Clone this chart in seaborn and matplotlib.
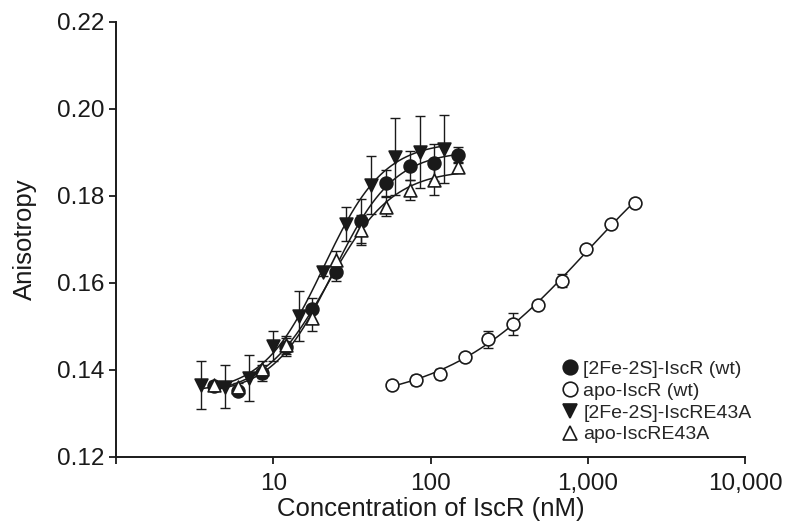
import numpy as np
import pandas as pd
import matplotlib
matplotlib.use("Agg")
import matplotlib.pyplot as plt
import seaborn as sns
from matplotlib.lines import Line2D

# [2Fe-2S]-IscR (wt) -- filled circles
holo_wt_x = [4.2, 6.0, 8.5, 12.1, 17.7, 25.2, 35.9, 51.9, 74.5, 105, 150]
holo_wt_y = [0.1363, 0.1350, 0.1392, 0.1452, 0.1539, 0.1625, 0.1742, 0.1830, 0.1869, 0.1876, 0.1893]
holo_wt_err = [0.0008, 0.0008, 0.0018, 0.0020, 0.0027, 0.0020, 0.0050, 0.0030, 0.0033, 0.0042, 0.0018]

# apo-IscR (wt) -- open circles
apo_wt_x = [56.7, 80.8, 115, 165, 233, 335, 481, 689, 975, 1398, 2005]
apo_wt_y = [0.1365, 0.1376, 0.1390, 0.1430, 0.1470, 0.1505, 0.1549, 0.1605, 0.1677, 0.1735, 0.1784]
apo_wt_err = [0.0010, 0.0012, 0.0012, 0.0005, 0.0020, 0.0025, 0.0005, 0.0015, 0.0005, 0.0005, 0.0005]

# [2Fe-2S]-IscRE43A -- filled down triangles
holo_mut_x = [3.45, 4.95, 7.05, 10.0, 14.5, 20.8, 29.2, 41.6, 59.7, 86.3, 122]
holo_mut_y = [0.1365, 0.1361, 0.1380, 0.1455, 0.1524, 0.1625, 0.1735, 0.1825, 0.1890, 0.1901, 0.1907]
holo_mut_err = [0.0055, 0.0050, 0.0053, 0.0035, 0.0057, 0.0010, 0.0040, 0.0067, 0.0088, 0.0083, 0.0078]

# apo-IscRE43A -- open up triangles
apo_mut_x = [4.2, 6.0, 8.5, 12.1, 17.7, 25.2, 35.9, 51.9, 74.5, 105, 150]
apo_mut_y = [0.1366, 0.1360, 0.1401, 0.1457, 0.1518, 0.1652, 0.1721, 0.1775, 0.1813, 0.1836, 0.1867]
apo_mut_err = [0.0008, 0.0010, 0.0020, 0.0020, 0.0030, 0.0020, 0.0035, 0.0022, 0.0023, 0.0035, 0.0010]

labels = ["[2Fe-2S]-IscR (wt)", "apo-IscR (wt)", "[2Fe-2S]-IscRE43A", "apo-IscRE43A"]
xticks = [1, 10, 100, 1000, 10000]
xticklabels = ["", "10", "100", "1,000", "10,000"]
yticks = [0.12, 0.14, 0.16, 0.18, 0.20, 0.22]


def hill_fit(x, y):
    """Grid search over log K and n; baseline/amplitude solved linearly."""
    lx = np.log10(np.asarray(x, float))
    y = np.asarray(y, float)
    logk, n = np.meshgrid(np.linspace(0.3, 4.0, 371), np.linspace(0.6, 4.0, 69))
    logk, n = logk.ravel()[:, None], n.ravel()[:, None]
    f = 1.0 / (1.0 + 10 ** (n * (logk - lx[None, :])))
    fm, ym = f.mean(1, keepdims=True), y.mean()
    a = ((f - fm) * (y - ym)).sum(1, keepdims=True) / ((f - fm) ** 2).sum(1, keepdims=True)
    b = ym - a * fm
    sse = ((b + a * f - y) ** 2).sum(1)
    i = np.argmin(sse)
    return logk[i, 0], n[i, 0], b[i, 0], a[i, 0]


def hill_curve(x, params):
    logk, n, b, a = params
    xs = np.logspace(np.log10(min(x)), np.log10(max(x)), 200)
    return xs, b + a / (1.0 + 10 ** (n * (logk - np.log10(xs))))


sns.set_style("ticks")
plt.rcParams["font.family"] = ["Liberation Sans", "DejaVu Sans"]
ink = "#1a1a1a"

fig = plt.figure(figsize=(7.85, 5.25), dpi=100)
ax = fig.add_axes([0.1478, 0.130, 0.8013, 0.8287])

series = [
    (holo_wt_x, holo_wt_y, holo_wt_err, "o", ink),
    (apo_wt_x, apo_wt_y, apo_wt_err, "o", "white"),
    (holo_mut_x, holo_mut_y, holo_mut_err, "v", ink),
    (apo_mut_x, apo_mut_y, apo_mut_err, "^", "white"),
]

for x, y, err, m, face in series:
    xs, ys = hill_curve(x, hill_fit(x, y))
    sns.lineplot(x=xs, y=ys, ax=ax, color=ink, linewidth=1.1, sort=False)

for x, y, err, m, face in series:
    ax.errorbar(x, y, yerr=err, fmt="none", ecolor=ink, elinewidth=1.0,
                capsize=3.5, capthick=1.0, zorder=3)
    df = pd.DataFrame({"x": x, "y": y})
    sns.scatterplot(data=df, x="x", y="y", ax=ax, marker=m, s=85,
                    color=face, edgecolor=ink, linewidth=1.2, zorder=4)

ax.set_xscale("log")
ax.set_xlim(1, 10000)
ax.set_ylim(0.12, 0.22)
ax.set_xticks(xticks)
ax.set_xticklabels(xticklabels)
ax.minorticks_off()
ax.set_yticks(yticks)
ax.set_yticklabels([f"{v:.2f}" for v in yticks])
ax.tick_params(axis="both", direction="out", length=5, width=1.3,
               labelsize=17.5, color=ink, labelcolor=ink)
ax.tick_params(axis="x", pad=7)
for s in ["left", "bottom"]:
    ax.spines[s].set_linewidth(1.4)
    ax.spines[s].set_color(ink)
sns.despine(ax=ax)
ax.set_xlabel("Concentration of IscR (nM)", fontsize=18.5, color=ink, labelpad=1)
ax.set_ylabel("Anisotropy", fontsize=18.5, color=ink, labelpad=14)

handles = [
    Line2D([], [], marker=m, linestyle="none", markersize=10.5,
           markerfacecolor=face, markeredgecolor=ink, markeredgewidth=1.2)
    for _, _, _, m, face in series
]
ax.legend(handles, labels, loc="upper left", bbox_to_anchor=(0.709, 0.222),
          frameon=False, fontsize=14, handlelength=0.8, handletextpad=0.3,
          labelspacing=0.22, borderaxespad=0, borderpad=0)

fig.savefig("out.png", dpi=100)
